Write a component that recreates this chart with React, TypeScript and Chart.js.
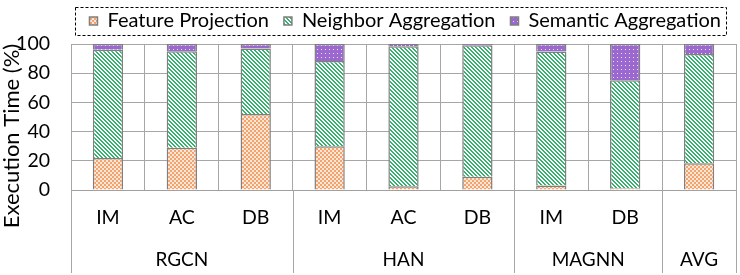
import React, { useEffect, useRef } from 'react';
import { Chart, registerables } from 'chart.js';

Chart.register(...registerables);

const categories = ['IM', 'AC', 'DB', 'IM', 'AC', 'DB', 'IM', 'DB', ''];
const groups = ['RGCN', 'HAN', 'MAGNN', 'AVG'];
const groupSizes = [3, 3, 2, 1];
const featureProjection = [22, 29, 52, 30, 2.5, 9, 3, 1.2, 18.3];
const neighborAggregation = [74, 66, 45, 58.4, 96, 90.2, 91.8, 73.9, 74.9];
const semanticAggregation = [4, 5, 3, 11.6, 1.5, 0.8, 5.2, 24.9, 6.8];
const seriesNames = ['Feature Projection', 'Neighbor Aggregation', 'Semantic Aggregation'];
const yTitle = 'Execution Time (%)';

const FONT = 'Lato';

function makePattern(kind: string): CanvasPattern | string {
  const c = document.createElement('canvas');
  c.width = 4;
  c.height = 4;
  const g = c.getContext('2d');
  if (!g) return '#ccc';
  if (kind === 'check') {
    g.fillStyle = '#FCE6D6';
    g.fillRect(0, 0, 4, 4);
    g.fillStyle = '#F2A36E';
    g.fillRect(0, 0, 2, 2);
    g.fillRect(2, 2, 2, 2);
  } else if (kind === 'diag') {
    g.fillStyle = '#FFFFFF';
    g.fillRect(0, 0, 4, 4);
    g.fillStyle = '#35B26E';
    for (let i = 0; i < 4; i++) {
      g.fillRect(i, i, 1, 1);
      g.fillRect((i + 1) % 4, i, 1, 1);
    }
  } else {
    g.fillStyle = '#9B68CF';
    g.fillRect(0, 0, 4, 4);
    g.fillStyle = '#EDE3F8';
    g.fillRect(1, 1, 1, 1);
  }
  return g.createPattern(c, 'repeat') || '#ccc';
}

const decorPlugin = {
  id: 'decor',
  afterInit(chart: any) {
    const lg = chart.legend;
    if (lg && !lg.__patched) {
      const orig = lg.fit.bind(lg);
      lg.fit = function () {
        orig();
        this.height = 48;
      };
      lg.__patched = true;
    }
  },
  afterDraw(chart: any) {
    const { ctx, chartArea, scales } = chart;
    const x = scales.x;
    ctx.save();
    const sepX: number[] = [chartArea.left];
    const centers: number[] = [];
    let idx = 0;
    groupSizes.forEach((n) => {
      centers.push((x.getPixelForValue(idx) + x.getPixelForValue(idx + n - 1)) / 2);
      idx += n;
      sepX.push(
        idx < categories.length
          ? (x.getPixelForValue(idx - 1) + x.getPixelForValue(idx)) / 2
          : chartArea.right
      );
    });
    ctx.strokeStyle = '#A6A6A6';
    ctx.lineWidth = 1;
    sepX.forEach((px) => {
      const xx = Math.round(px) + 0.5;
      ctx.beginPath();
      ctx.moveTo(xx, chartArea.bottom);
      ctx.lineTo(xx, chartArea.bottom + 83);
      ctx.stroke();
    });
    ctx.fillStyle = '#000';
    ctx.font = `19px ${FONT}`;
    ctx.textAlign = 'center';
    ctx.textBaseline = 'middle';
    groups.forEach((g, i) => ctx.fillText(g, centers[i], chartArea.bottom + 70));
    ctx.save();
    ctx.translate(12, 136);
    ctx.rotate(-Math.PI / 2);
    ctx.font = `22px ${FONT}`;
    ctx.fillText(yTitle, 0, 0);
    ctx.restore();
    const hb = chart.legend && chart.legend.legendHitBoxes;
    if (hb && hb.length) {
      const first = hb[0];
      const last = hb[hb.length - 1];
      const cy = first.top + first.height / 2;
      const l = Math.round(first.left - 14) + 0.5;
      const r = Math.round(last.left + last.width + 5) + 0.5;
      const t = Math.round(cy - 14) + 0.5;
      const b = Math.round(cy + 14) + 0.5;
      ctx.setLineDash([3, 2]);
      ctx.strokeStyle = '#000';
      ctx.lineWidth = 1;
      ctx.strokeRect(l, t, r - l, b - t);
    }
    ctx.restore();
  },
};

export default function App() {
  const ref = useRef<HTMLCanvasElement | null>(null);
  useEffect(() => {
    if (!ref.current) return;
    const fp = makePattern('check');
    const na = makePattern('diag');
    const sa = makePattern('dots');
    const border = '#7F7F7F';
    const common = {
      borderColor: border,
      borderWidth: 1.5,
      categoryPercentage: 1,
      barPercentage: 0.41,
    };
    const chart = new Chart(ref.current, {
      type: 'bar',
      data: {
        labels: categories,
        datasets: [
          { label: seriesNames[0], data: featureProjection, backgroundColor: fp, ...common },
          { label: seriesNames[1], data: neighborAggregation, backgroundColor: na, ...common },
          { label: seriesNames[2], data: semanticAggregation, backgroundColor: sa, ...common },
        ],
      },
      options: {
        responsive: false,
        animation: false,
        layout: { padding: { top: -4, right: 4, left: 0, bottom: 0 } },
        plugins: {
          tooltip: { enabled: false },
          legend: {
            position: 'top',
            align: 'end',
            labels: {
              boxWidth: 8,
              boxHeight: 8,
              padding: 15,
              color: '#000',
              font: { family: FONT, size: 20 },
            },
          },
        },
        scales: {
          x: {
            stacked: true,
            afterFit: (s: any) => {
              s.height = 85;
            },
            grid: {
              offset: true,
              color: '#A6A6A6',
              lineWidth: 1,
              borderDash: [6, 4],
              drawTicks: false,
            },
            border: { display: true, color: '#A0A0A0', width: 1 },
            ticks: {
              color: '#000',
              padding: 16,
              font: { family: FONT, size: 19.5 },
              maxRotation: 0,
              autoSkip: false,
            },
          },
          y: {
            stacked: true,
            min: 0,
            max: 100,
            afterFit: (s: any) => {
              s.width = 71;
            },
            grid: {
              color: '#A6A6A6',
              lineWidth: 1,
              borderDash: [6, 4],
              drawTicks: false,
            },
            border: { display: false },
            ticks: {
              stepSize: 20,
              color: '#000',
              padding: 21,
              font: { family: FONT, size: 19.5 },
            },
          },
        },
      },
      plugins: [decorPlugin],
    } as any);
    return () => chart.destroy();
  }, []);
  return (
    <div style={{ position: 'absolute', left: 0, top: 0, width: 740, height: 275, background: '#fff' }}>
      <canvas ref={ref} width={740} height={275} style={{ display: 'block' }} />
    </div>
  );
}
